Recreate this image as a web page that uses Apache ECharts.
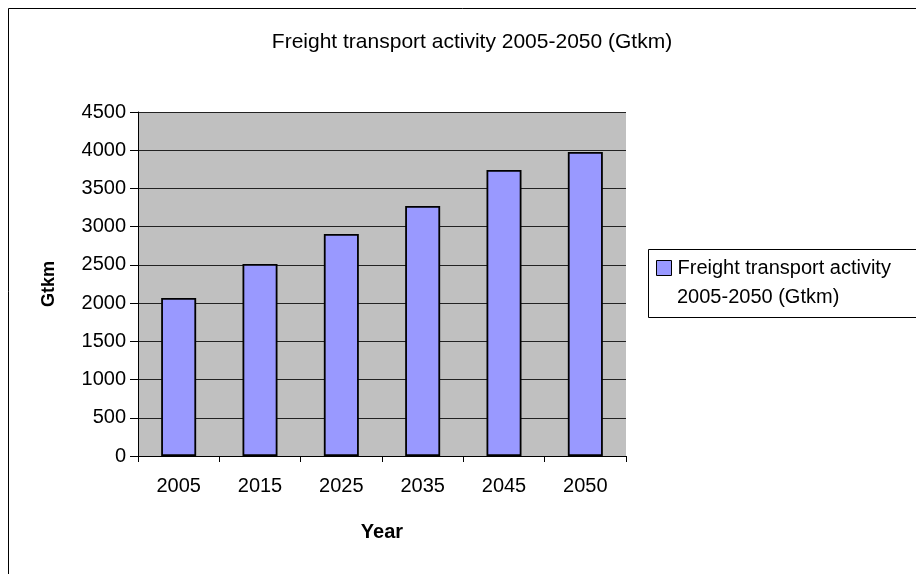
<!DOCTYPE html>
<html>
<head>
<meta charset="utf-8">
<script src="https://cdn.jsdelivr.net/npm/echarts@6/dist/echarts.min.js"></script>
<style>html,body{margin:0;padding:0;background:#fff;}#c{width:916px;height:574px;}</style>
</head>
<body>
<div id="c"></div>
<script>
var categories = ['2005', '2015', '2025', '2035', '2045', '2050'];
var values = [2067, 2512, 2904, 3270, 3741, 3977];
var seriesName = 'Freight transport activity 2005-2050 (Gtkm)';
var legendLine1 = 'Freight transport activity';
var legendLine2 = '2005-2050 (Gtkm)';
var chartTitle = 'Freight transport activity 2005-2050 (Gtkm)';
var xTitle = 'Year';
var yTitle = 'Gtkm';

var chart = echarts.init(document.getElementById('c'));
var font = 'Liberation Sans, Arial, sans-serif';
chart.setOption({
  animation: false,
  backgroundColor: '#fff',
  textStyle: { fontFamily: font },
  title: {
    text: chartTitle, left: 467, top: 27, textAlign: 'center',
    textStyle: { fontSize: 21, fontWeight: 'normal', color: '#000', fontFamily: font }
  },
  graphic: [
    { type: 'rect', shape: { x: 8.5, y: 8.5, width: 920, height: 580 }, style: { fill: 'none', stroke: '#000', lineWidth: 1 }, z: -1 },
    { type: 'rect', shape: { x: 648.5, y: 249.5, width: 280, height: 68 }, style: { fill: '#fff', stroke: '#000', lineWidth: 1 }, z: 0 },
    { type: 'text', left: 677, top: 287, z: 10, style: { text: legendLine2, fontSize: 20, fill: '#000', fontFamily: font } }
  ],
  legend: {
    left: 656, top: 258,
    itemWidth: 15, itemHeight: 15, itemGap: 0, padding: 0,
    icon: 'rect',
    itemStyle: { borderColor: '#000', borderWidth: 1 },
    formatter: function () { return legendLine1; },
    textStyle: { fontSize: 20, color: '#000', fontFamily: font, padding: [0, 0, 0, 1] },
    z: 5
  },
  grid: { left: 138, right: 290, top: 112, bottom: 118, show: true, backgroundColor: '#c0c0c0', borderWidth: 0 },
  xAxis: {
    type: 'category', data: categories,
    name: xTitle, nameLocation: 'middle', nameGap: 66,
    nameTextStyle: { fontSize: 20, fontWeight: 'bold', color: '#000', fontFamily: font },
    axisLine: { lineStyle: { color: '#000', width: 1 } },
    axisTick: { show: true, alignWithLabel: false, length: 6, lineStyle: { color: '#000' } },
    axisLabel: { fontSize: 20, color: '#000', margin: 20, fontFamily: font }
  },
  yAxis: {
    type: 'value', min: 0, max: 4500, interval: 500,
    name: yTitle, nameLocation: 'middle', nameGap: 80, nameRotate: 90,
    nameTextStyle: { fontSize: 18, fontWeight: 'bold', color: '#000', fontFamily: font },
    axisLine: { show: true, lineStyle: { color: '#000', width: 1 } },
    axisTick: { show: true, length: 8, lineStyle: { color: '#000' } },
    axisLabel: { fontSize: 20, color: '#000', margin: 12, fontFamily: font, formatter: function (v) { return String(v); } },
    splitLine: { show: true, lineStyle: { color: '#222', width: 1 } }
  },
  series: [{
    name: seriesName, type: 'bar', data: values,
    barWidth: 35,
    itemStyle: { color: '#9999ff', borderColor: '#000', borderWidth: 1.8 }
  }]
});
</script>
</body>
</html>
